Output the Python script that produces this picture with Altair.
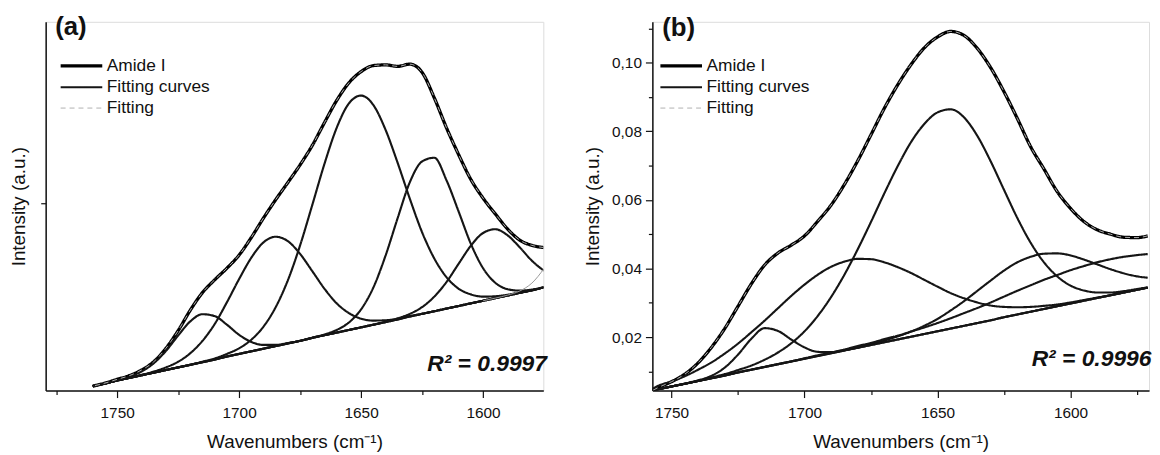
import altair as alt
import pandas as pd

FONT = "Liberation Sans"

# ---------------- legend / series ----------------
series_names = ["Amide I", "Fitting curves", "Fitting"]
series_colors = ["#000000", "#151515", "#b0b0b0"]
series_widths = [3.3, 1.0, 1.6]
series_dashes = [[1, 0], [1, 0], [5, 4]]

# ---------------- panel (a) ----------------
wn_a = [1760, 1755, 1750, 1745, 1740, 1735, 1730, 1725, 1720, 1715,
        1710, 1705, 1700, 1695, 1690, 1685, 1680, 1675, 1670, 1665,
        1660, 1655, 1650, 1645, 1640, 1635, 1630, 1625, 1620, 1615,
        1610, 1605, 1600, 1595, 1590, 1585, 1580, 1575]

amide_a = [0.012, 0.020, 0.030, 0.040, 0.055, 0.077, 0.113, 0.160, 0.215, 0.262,
           0.296, 0.327, 0.362, 0.409, 0.461, 0.510, 0.556, 0.603, 0.655, 0.716,
           0.775, 0.822, 0.852, 0.868, 0.870, 0.866, 0.872, 0.850, 0.782, 0.702,
           0.630, 0.564, 0.514, 0.472, 0.432, 0.402, 0.388, 0.382]

fit_a = [0.012, 0.020, 0.030, 0.040, 0.055, 0.077, 0.113, 0.160, 0.215, 0.262,
         0.296, 0.327, 0.362, 0.409, 0.461, 0.510, 0.556, 0.603, 0.655, 0.716,
         0.775, 0.822, 0.852, 0.868, 0.870, 0.866, 0.872, 0.850, 0.782, 0.702,
         0.630, 0.564, 0.514, 0.472, 0.432, 0.402, 0.388, 0.382]

base_a = [0.012, 0.019, 0.027, 0.034, 0.041, 0.048, 0.055, 0.062, 0.069, 0.076,
          0.083, 0.091, 0.098, 0.105, 0.112, 0.119, 0.126, 0.133, 0.141, 0.148,
          0.155, 0.162, 0.169, 0.176, 0.183, 0.190, 0.198, 0.205, 0.212, 0.219,
          0.226, 0.233, 0.240, 0.247, 0.254, 0.261, 0.268, 0.276]

p1_a = [0.012, 0.019, 0.028, 0.037, 0.051, 0.073, 0.106, 0.147, 0.185, 0.204,
        0.199, 0.176, 0.149, 0.130, 0.122, 0.122, 0.127, 0.133, 0.141, 0.148,
        0.155, 0.162, 0.169, 0.176, 0.183, 0.190, 0.198, 0.205, 0.212, 0.219,
        0.226, 0.233, 0.240, 0.247, 0.254, 0.261, 0.268, 0.276]

p2_a = [0.012, 0.019, 0.027, 0.034, 0.042, 0.051, 0.062, 0.077, 0.100, 0.133,
        0.178, 0.236, 0.298, 0.355, 0.396, 0.411, 0.399, 0.365, 0.319, 0.272,
        0.233, 0.207, 0.192, 0.187, 0.188, 0.192, 0.199, 0.205, 0.212, 0.219,
        0.226, 0.233, 0.240, 0.247, 0.254, 0.261, 0.268, 0.276]

p3_a = [0.012, 0.019, 0.027, 0.034, 0.041, 0.048, 0.055, 0.062, 0.069, 0.077,
        0.086, 0.098, 0.113, 0.136, 0.171, 0.223, 0.295, 0.388, 0.496, 0.606,
        0.702, 0.767, 0.788, 0.763, 0.697, 0.608, 0.512, 0.423, 0.353, 0.303,
        0.272, 0.257, 0.251, 0.252, 0.256, 0.262, 0.268, 0.276]

p4_a = [0.012, 0.019, 0.027, 0.034, 0.041, 0.048, 0.055, 0.062, 0.069, 0.076,
        0.083, 0.091, 0.098, 0.105, 0.112, 0.119, 0.126, 0.133, 0.141, 0.150,
        0.162, 0.182, 0.217, 0.275, 0.360, 0.461, 0.557, 0.612, 0.622, 0.562,
        0.478, 0.392, 0.327, 0.288, 0.271, 0.267, 0.270, 0.276]

p5_a = [0.012, 0.019, 0.027, 0.034, 0.041, 0.048, 0.055, 0.062, 0.069, 0.076,
        0.083, 0.091, 0.098, 0.105, 0.112, 0.119, 0.126, 0.133, 0.141, 0.148,
        0.155, 0.162, 0.169, 0.176, 0.184, 0.193, 0.205, 0.223, 0.251, 0.290,
        0.339, 0.387, 0.421, 0.431, 0.415, 0.383, 0.347, 0.320]

wn_a_tail = [1600, 1595, 1590, 1585, 1580, 1575]
p6_a = [0.240, 0.247, 0.255, 0.266, 0.287, 0.326]

# ---------------- panel (b) ----------------
wn_b = [1757, 1755, 1750, 1745, 1740, 1735, 1730, 1725, 1720, 1715,
        1710, 1705, 1700, 1695, 1690, 1685, 1680, 1675, 1670, 1665,
        1660, 1655, 1650, 1645, 1640, 1635, 1630, 1625, 1620, 1615,
        1610, 1605, 1600, 1595, 1590, 1585, 1580, 1575, 1571]

amide_b = [0.0045, 0.0053, 0.0070, 0.0092, 0.0125, 0.0170, 0.0225, 0.0290, 0.0355, 0.0410,
           0.0445, 0.0468, 0.0495, 0.0538, 0.0585, 0.0645, 0.0714, 0.0790, 0.0867, 0.0935,
           0.0994, 0.1043, 0.1075, 0.1091, 0.1079, 0.1041, 0.0985, 0.0915, 0.0837, 0.0755,
           0.0690, 0.0624, 0.0575, 0.0537, 0.0513, 0.0500, 0.0491, 0.0490, 0.0495]

fit_b = [0.0045, 0.0053, 0.0070, 0.0092, 0.0125, 0.0170, 0.0225, 0.0290, 0.0355, 0.0410,
         0.0445, 0.0468, 0.0495, 0.0538, 0.0585, 0.0645, 0.0714, 0.0790, 0.0867, 0.0935,
         0.0994, 0.1043, 0.1075, 0.1091, 0.1079, 0.1041, 0.0985, 0.0915, 0.0837, 0.0755,
         0.0690, 0.0624, 0.0575, 0.0537, 0.0513, 0.0500, 0.0491, 0.0490, 0.0495]

base_b = [0.0045, 0.0048, 0.0056, 0.0064, 0.0072, 0.0080, 0.0088, 0.0097, 0.0105, 0.0113,
          0.0121, 0.0129, 0.0137, 0.0145, 0.0153, 0.0161, 0.0169, 0.0177, 0.0185, 0.0193,
          0.0201, 0.0209, 0.0217, 0.0225, 0.0233, 0.0241, 0.0249, 0.0258, 0.0266, 0.0274,
          0.0282, 0.0290, 0.0298, 0.0306, 0.0314, 0.0322, 0.0330, 0.0338, 0.0344]

q1_b = [0.0045, 0.0048, 0.0056, 0.0064, 0.0074, 0.0087, 0.0111, 0.0149, 0.0195, 0.0226,
        0.0218, 0.0193, 0.0170, 0.0157, 0.0156, 0.0162, 0.0169, 0.0177, 0.0185, 0.0193,
        0.0201, 0.0209, 0.0217, 0.0225, 0.0233, 0.0241, 0.0249, 0.0258, 0.0266, 0.0274,
        0.0282, 0.0290, 0.0298, 0.0306, 0.0314, 0.0322, 0.0330, 0.0338, 0.0344]

q2_b = [0.0050, 0.0058, 0.0071, 0.0086, 0.0105, 0.0126, 0.0152, 0.0181, 0.0214, 0.0248,
        0.0284, 0.0320, 0.0353, 0.0382, 0.0405, 0.0420, 0.0428, 0.0427, 0.0418, 0.0404,
        0.0387, 0.0367, 0.0347, 0.0328, 0.0313, 0.0301, 0.0292, 0.0288, 0.0287, 0.0288,
        0.0291, 0.0295, 0.0301, 0.0308, 0.0315, 0.0322, 0.0330, 0.0338, 0.0344]

q3_b = [0.0045, 0.0048, 0.0056, 0.0064, 0.0072, 0.0082, 0.0092, 0.0104, 0.0117, 0.0134,
        0.0155, 0.0182, 0.0217, 0.0262, 0.0317, 0.0382, 0.0456, 0.0536, 0.0619, 0.0698,
        0.0768, 0.0821, 0.0855, 0.0864, 0.0840, 0.0786, 0.0712, 0.0629, 0.0547, 0.0475,
        0.0418, 0.0377, 0.0350, 0.0336, 0.0330, 0.0330, 0.0334, 0.0340, 0.0345]

q4_b = [0.0045, 0.0048, 0.0056, 0.0064, 0.0072, 0.0080, 0.0088, 0.0097, 0.0105, 0.0113,
        0.0121, 0.0129, 0.0137, 0.0145, 0.0153, 0.0161, 0.0170, 0.0180, 0.0190, 0.0202,
        0.0216, 0.0233, 0.0253, 0.0278, 0.0305, 0.0335, 0.0365, 0.0394, 0.0418, 0.0434,
        0.0443, 0.0444, 0.0438, 0.0426, 0.0412, 0.0398, 0.0386, 0.0377, 0.0373]

q5_b = [0.0045, 0.0048, 0.0056, 0.0064, 0.0072, 0.0080, 0.0088, 0.0097, 0.0105, 0.0113,
        0.0121, 0.0129, 0.0138, 0.0147, 0.0155, 0.0164, 0.0174, 0.0183, 0.0194, 0.0204,
        0.0216, 0.0228, 0.0241, 0.0255, 0.0270, 0.0285, 0.0301, 0.0318, 0.0335, 0.0351,
        0.0367, 0.0381, 0.0395, 0.0407, 0.0418, 0.0427, 0.0434, 0.0439, 0.0442]

# axis ticks
xticks_a = [1775, 1750, 1725, 1700, 1675, 1650, 1625, 1600]
xticks_b = [1750, 1725, 1700, 1675, 1650, 1625, 1600, 1575]
yticks_a = [0.5]
yticks_b = [0.01, 0.02, 0.03, 0.04, 0.05, 0.06, 0.07, 0.08, 0.09, 0.10, 0.11]

# annotations
panel_labels = ["(a)", "(b)"]
label_pos_a = (1775.4, 0.970)
label_pos_b = (1753.5, 0.1102)
r2_labels = ["R² = 0.9997", "R² = 0.9996"]
r2_pos_a = (1573.8, 0.052)
r2_pos_b = (1569.6, 0.0115)

x_title = "Wavenumbers (cm⁻¹)"
y_title = "Intensity (a.u.)"


def long_df(wn, curves, series):
    rows = []
    for name, vals in curves.items():
        for w, v in zip(wn, vals):
            rows.append({"wn": w, "val": v, "curve": name, "series": series})
    return pd.DataFrame(rows)


def make_panel(dfs, extra_df, xdom, ydom, xaxis, yaxis, w, h, legend_x,
               label_df, r2_df):
    x = alt.X("wn:Q", scale=alt.Scale(domain=xdom, nice=False, zero=False),
              axis=xaxis, title=x_title)
    y = alt.Y("val:Q", scale=alt.Scale(domain=ydom, nice=False, zero=False),
              axis=yaxis, title=y_title)
    leg = alt.Legend(orient="none", legendX=legend_x, legendY=34, title=None,
                     symbolType="M-2.5,0H2.5", symbolSize=282, labelFont=FONT,
                     labelFontSize=17.5, labelColor="#111", rowPadding=3.5,
                     labelOffset=15, padding=0)
    color = alt.Color("series:N", scale=alt.Scale(domain=series_names, range=series_colors), legend=leg)
    sw = alt.StrokeWidth("series:N", scale=alt.Scale(domain=series_names, range=series_widths), legend=leg)
    sd = alt.StrokeDash("series:N", scale=alt.Scale(domain=series_names, range=series_dashes), legend=leg)

    layers = []
    for df in dfs:
        layers.append(
            alt.Chart(df).mark_line(interpolate="monotone", clip=True, strokeJoin="round")
            .encode(x=x, y=y, color=color, strokeWidth=sw, strokeDash=sd,
                    detail="curve:N", order="wn:Q")
        )
    if extra_df is not None:
        layers.append(
            alt.Chart(extra_df).mark_line(interpolate="monotone", clip=True,
                                          color="#9a9a9a", strokeWidth=1)
            .encode(x=x, y=y, detail="curve:N")
        )
    layers.append(
        alt.Chart(label_df).mark_text(font=FONT, fontSize=26, fontWeight="bold",
                                      align="left", baseline="middle", color="#111")
        .encode(x=x, y=y, text="text:N")
    )
    layers.append(
        alt.Chart(r2_df).mark_text(font=FONT, fontSize=23, fontWeight="bold",
                                   fontStyle="italic", align="right",
                                   baseline="alphabetic", color="#111")
        .encode(x=x, y=y, text="text:N")
    )
    return alt.layer(*layers).properties(width=w, height=h)


axis_common = dict(domainColor="#111", domainWidth=1.5, tickColor="#111",
                   tickWidth=1.2, labelFont=FONT, labelFontSize=15.5,
                   labelColor="#111", titleFont=FONT, titleFontSize=19,
                   titleFontWeight="normal", titleColor="#111", grid=False)

xaxis_a = alt.Axis(values=xticks_a, format="d",
                   labelExpr="datum.value % 50 === 0 ? datum.label : ''",
                   tickSize=alt.condition("datum.value % 50 === 0", alt.value(7), alt.value(4)),
                   labelPadding=8, titlePadding=12, **axis_common)
xaxis_b = alt.Axis(values=xticks_b, format="d",
                   labelExpr="datum.value % 50 === 0 ? datum.label : ''",
                   tickSize=alt.condition("datum.value % 50 === 0", alt.value(7), alt.value(4)),
                   labelPadding=8, titlePadding=12, **axis_common)
yaxis_a = alt.Axis(values=yticks_a, labels=False, tickSize=5, titlePadding=12,
                   **axis_common)
yaxis_b = alt.Axis(values=yticks_b,
                   labelExpr="round(datum.value*100) % 2 === 0 ? replace(format(datum.value, '.2f'), '.', ',') : ''",
                   tickSize=alt.condition("round(datum.value*100) % 2 === 0", alt.value(7), alt.value(4)),
                   labelPadding=4, titlePadding=9, **axis_common)

amide_df_a = long_df(wn_a, {"amide": amide_a}, "Amide I")
curves_df_a = long_df(wn_a, {"base": base_a, "p1": p1_a, "p2": p2_a, "p3": p3_a,
                             "p4": p4_a, "p5": p5_a}, "Fitting curves")
fit_df_a = long_df(wn_a, {"fit": fit_a}, "Fitting")
extra_df_a = long_df(wn_a_tail, {"p6": p6_a}, "extra")

amide_df_b = long_df(wn_b, {"amide": amide_b}, "Amide I")
curves_df_b = long_df(wn_b, {"base": base_b, "q1": q1_b, "q2": q2_b, "q3": q3_b,
                             "q4": q4_b, "q5": q5_b}, "Fitting curves")
fit_df_b = long_df(wn_b, {"fit": fit_b}, "Fitting")

lab_a = pd.DataFrame({"wn": [label_pos_a[0]], "val": [label_pos_a[1]], "text": [panel_labels[0]]})
lab_b = pd.DataFrame({"wn": [label_pos_b[0]], "val": [label_pos_b[1]], "text": [panel_labels[1]]})
r2_a = pd.DataFrame({"wn": [r2_pos_a[0]], "val": [r2_pos_a[1]], "text": [r2_labels[0]]})
r2_b = pd.DataFrame({"wn": [r2_pos_b[0]], "val": [r2_pos_b[1]], "text": [r2_labels[1]]})

panel_a = make_panel([amide_df_a, curves_df_a, fit_df_a], extra_df_a,
                     [1779.3, 1575.3], [0.0, 0.985], xaxis_a, yaxis_a,
                     502, 372, 25.6, lab_a, r2_a)
panel_b = make_panel([amide_df_b, curves_df_b, fit_df_b], None,
                     [1757.2, 1570.5], [0.0044, 0.1119], xaxis_b, yaxis_b,
                     501, 372, 18.6, lab_b, r2_b)

chart = (
    alt.hconcat(panel_a, panel_b, spacing=35)
    .resolve_scale(x="independent", y="independent", color="independent",
                   strokeWidth="independent", strokeDash="independent")
    .resolve_legend(color="independent", strokeWidth="independent",
                    strokeDash="independent")
    .properties(padding={"left": 0, "top": 4, "right": 0, "bottom": 0})
    .configure_view(stroke=None)
    .configure(background="white")
)

chart.save("out.html", embed_options={"renderer": "svg", "actions": False})
